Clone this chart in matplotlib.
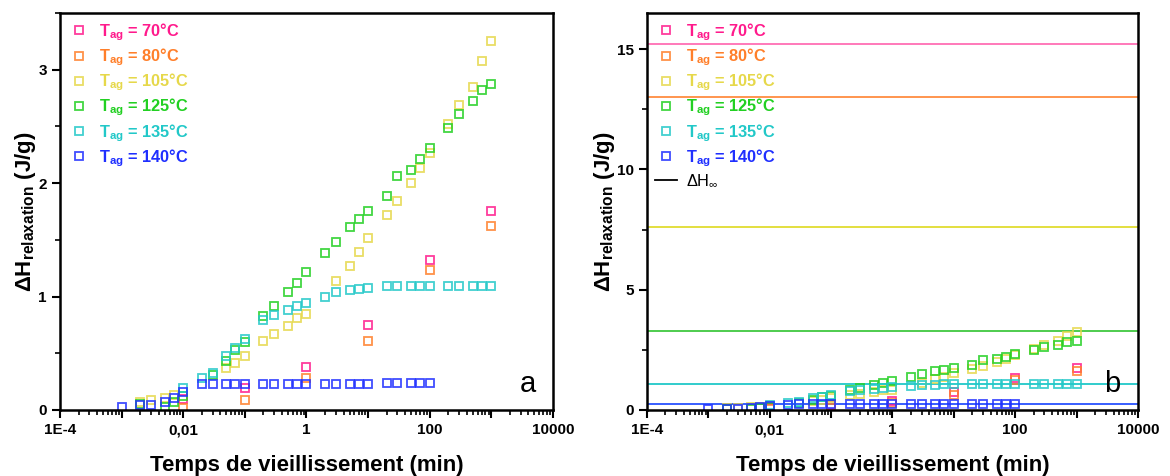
import numpy as np
import matplotlib
matplotlib.use("Agg")
import matplotlib.pyplot as plt
from matplotlib.ticker import FixedLocator, FixedFormatter, LogLocator, NullFormatter, MultipleLocator
from matplotlib.lines import Line2D

plt.rcParams['font.family'] = ['Liberation Sans', 'DejaVu Sans']
plt.rcParams['mathtext.fontset'] = 'custom'
plt.rcParams['mathtext.rm'] = 'Liberation Sans'
plt.rcParams['mathtext.bf'] = 'Liberation Sans:bold'
plt.rcParams['mathtext.it'] = 'Liberation Sans:italic'

# aging time (min) and enthalpy of relaxation (J/g) per aging temperature
t_70 = [0.01, 0.1, 1, 10, 100, 1000]
dh_70 = [0.10, 0.19, 0.38, 0.75, 1.32, 1.75]

t_80 = [0.01, 0.1, 1, 10, 100, 1000]
dh_80 = [0.02, 0.09, 0.28, 0.61, 1.23, 1.62]

t_105 = [0.002, 0.003, 0.005, 0.007, 0.05, 0.07, 0.1, 0.2, 0.3, 0.5, 0.7, 1,
         3, 5, 7, 10, 20, 30, 50, 70, 100, 200, 300, 500, 700, 1000]
dh_105 = [0.07, 0.09, 0.11, 0.13, 0.37, 0.41, 0.48, 0.61, 0.67, 0.74, 0.81, 0.85,
          1.14, 1.27, 1.39, 1.52, 1.72, 1.84, 2.00, 2.13, 2.27, 2.52, 2.69, 2.85, 3.08, 3.25]

t_125 = [0.002, 0.005, 0.007, 0.01, 0.03, 0.05, 0.07, 0.1, 0.2, 0.3, 0.5, 0.7, 1,
         2, 3, 5, 7, 10, 20, 30, 50, 70, 100, 200, 300, 500, 700, 1000]
dh_125 = [0.05, 0.03, 0.07, 0.12, 0.31, 0.43, 0.53, 0.60, 0.83, 0.92, 1.04, 1.12, 1.22,
          1.38, 1.48, 1.61, 1.68, 1.75, 1.89, 2.06, 2.12, 2.21, 2.31, 2.49, 2.61, 2.72, 2.82, 2.87]

t_135 = [0.01, 0.02, 0.03, 0.05, 0.07, 0.1, 0.2, 0.3, 0.5, 0.7, 1, 2, 3, 5, 7, 10,
         20, 30, 50, 70, 100, 200, 300, 500, 700, 1000]
dh_135 = [0.19, 0.28, 0.33, 0.48, 0.55, 0.63, 0.79, 0.84, 0.88, 0.915, 0.945, 1.00, 1.04,
          1.055, 1.07, 1.075, 1.09, 1.09, 1.09, 1.09, 1.09, 1.09, 1.09, 1.09, 1.09, 1.09]

t_140 = [0.001, 0.002, 0.003, 0.005, 0.007, 0.01, 0.02, 0.03, 0.05, 0.07, 0.1, 0.2, 0.3,
         0.5, 0.7, 1, 2, 3, 5, 7, 10, 20, 30, 50, 70, 100]
dh_140 = [0.03, 0.04, 0.045, 0.07, 0.105, 0.16, 0.225, 0.228, 0.228, 0.228, 0.228, 0.23, 0.23,
          0.23, 0.23, 0.23, 0.23, 0.23, 0.23, 0.23, 0.23, 0.234, 0.234, 0.234, 0.234, 0.234]

# equilibrium enthalpy (J/g) for each temperature
dh_inf = [15.2, 13.0, 7.6, 3.28, 1.10, 0.26]

temps = ['70', '80', '105', '125', '135', '140']
mk_colors = ['#ff1a8c', '#ff7f2a', '#e6d84a', '#22d022', '#22c8c8', '#1f2fff']
ln_colors = ['#ff6eb4', '#ff8c40', '#e0dc30', '#40c840', '#20c8c8', '#2850ff']

series = [(t_70, dh_70), (t_80, dh_80), (t_105, dh_105),
          (t_125, dh_125), (t_135, dh_135), (t_140, dh_140)]

xticks = [1e-4, 1e-3, 1e-2, 1e-1, 1, 10, 100, 1000, 1e4]
xlabels = ['1E-4', '', '0,01', '', '1', '', '100', '', '10000']

fig = plt.figure(figsize=(11.7, 4.76), dpi=100)
ax1 = fig.add_axes([0.0513, 0.1387, 0.4213, 0.834])
ax2 = fig.add_axes([0.553, 0.1387, 0.4196, 0.834])


def style(ax, ymax, ymajor, letter):
    ax.set_xscale('log')
    ax.set_xlim(1e-4, 1e4)
    ax.set_ylim(0, ymax)
    ax.xaxis.set_major_locator(FixedLocator(xticks))
    ax.xaxis.set_major_formatter(FixedFormatter(xlabels))
    ax.xaxis.set_minor_locator(LogLocator(base=10, subs=np.arange(2, 10), numticks=20))
    ax.xaxis.set_minor_formatter(NullFormatter())
    ax.yaxis.set_major_locator(MultipleLocator(ymajor))
    ax.yaxis.set_minor_locator(MultipleLocator(ymajor / 2))
    ax.tick_params(which='major', direction='out', length=6, width=1.5, labelsize=11)
    ax.tick_params(which='minor', direction='out', length=3.5, width=1.2)
    for lab in ax.get_xticklabels() + ax.get_yticklabels():
        lab.set_fontweight('bold')
    for sp in ax.spines.values():
        sp.set_linewidth(1.8)
    ax.set_xlabel('Temps de vieillissement (min)', fontsize=16, fontweight='bold', labelpad=13)
    ax.set_ylabel('ΔH$_{\\mathbf{relaxation}}$ (J/g)', fontsize=16, fontweight='bold', labelpad=0)
    ax.text(0.965, 0.03, letter, transform=ax.transAxes, fontsize=21,
            ha='right', va='bottom')


for ax in (ax1, ax2):
    for (t, dh), temp, c in zip(series, temps, mk_colors):
        ax.plot(t, dh, ls='none', marker='s', ms=6, mfc='none', mec=c, mew=1.3,
                alpha=0.85, label='T$_{\\mathbf{ag}}$ = ' + temp + '°C')

for h, c in zip(dh_inf, ln_colors):
    ax2.axhline(h, color=c, lw=1.3, zorder=1)

style(ax1, 3.5, 1, 'a')
style(ax2, 16.5, 5, 'b')

leg_kw = dict(loc='upper left', frameon=False, handlelength=1.3, handletextpad=0.6,
              labelspacing=0.22, borderaxespad=0.1, borderpad=0.4,
              prop={'weight': 'bold', 'size': 11.8})

leg1 = ax1.legend(**leg_kw)
for txt, c in zip(leg1.get_texts(), mk_colors):
    txt.set_color(c)

handles, labels = ax2.get_legend_handles_labels()
handles.append(Line2D([], [], color='black', lw=1.3))
labels.append('ΔH$_{\\infty}$')
leg2 = ax2.legend(handles, labels, **leg_kw)
for txt, c in zip(leg2.get_texts(), mk_colors + ['black']):
    txt.set_color(c)
leg2.get_texts()[-1].set_fontweight('normal')

fig.savefig('out.png', dpi=100)
